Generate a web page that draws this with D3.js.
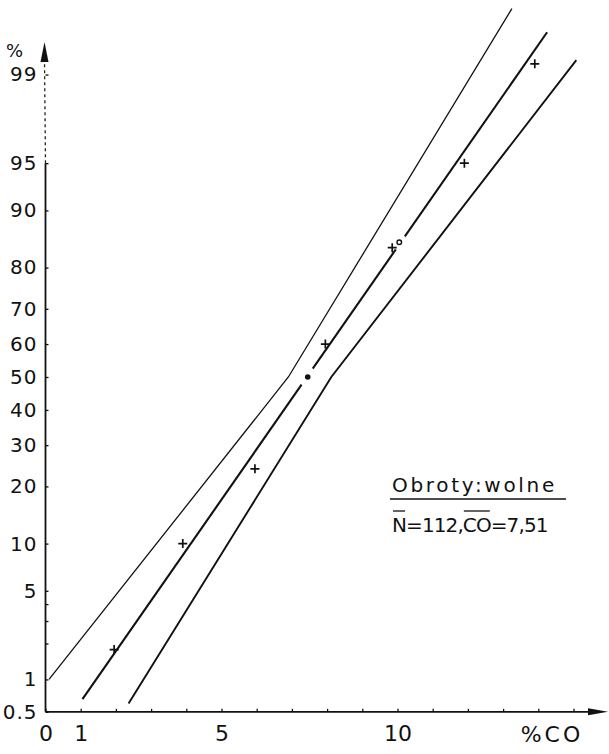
<!DOCTYPE html>
<html lang="pl">
<head>
<meta charset="utf-8">
<title>Obroty: wolne</title>
<script src="https://d3js.org/d3.v7.min.js"></script>
<style>
body { margin: 0; background: #fff; }
svg text { font-family: "DejaVu Sans", sans-serif; fill: #111; }
</style>
</head>
<body>
<div id="chart"></div>
<script>
// probability scale ticks (percent)
var yTicksPct = [0.5, 1, 5, 10, 20, 30, 40, 50, 60, 70, 80, 90, 95, 99];
var yTickLabels = ["0.5", "1", "5", "10", "20", "30", "40", "50", "60", "70", "80", "90", "95", "99"];
var yMinorPct = [2, 3, 4];

// %CO axis
var xTicks = d3.range(0, 16);
var xLabelled = [0, 1, 5, 10];

// observed cumulative frequencies
var obsCO = [1.95, 3.9, 5.95, 7.95, 9.85, 11.9, 13.9];
var obsPct = [1.8, 10, 24, 60, 84, 95, 99.2];

// mean point and sigma marker
var meanCO = 7.45, meanPct = 50;
var sigCO = 10.05, sigPct = 85;

// fitted line and bands [CO, %]
var fitLine = [[1.05, 0.66], [14.25, 99.6]];
var upperBand = [[0.1, 1.0], [6.9, 50], [13.25, 99.77]];
var lowerBand = [[2.36, 0.6], [8.12, 50], [15.08, 99.26]];

(function () {
    var width = 609, height = 754;

    // inverse normal cdf (Acklam)
    function probit(p) {
        var a = [-39.69683028665376, 220.9460984245205, -275.9285104469687, 138.3577518672690, -30.66479806614716, 2.506628277459239],
            b = [-54.47609879822406, 161.5858368580409, -155.6989798598866, 66.80131188771972, -13.28068155288572],
            c = [-0.007784894002430293, -0.3223964580411365, -2.400758277161838, -2.549732539343734, 4.374664141464968, 2.938163982698783],
            d = [0.007784695709041462, 0.3224671290700398, 2.445134137142996, 3.754408661907416],
            pl = 0.02425, q, r;
        if (p < pl) {
            q = Math.sqrt(-2 * Math.log(p));
            return (((((c[0]*q+c[1])*q+c[2])*q+c[3])*q+c[4])*q+c[5]) / ((((d[0]*q+d[1])*q+d[2])*q+d[3])*q+1);
        }
        if (p > 1 - pl) {
            q = Math.sqrt(-2 * Math.log(1 - p));
            return -(((((c[0]*q+c[1])*q+c[2])*q+c[3])*q+c[4])*q+c[5]) / ((((d[0]*q+d[1])*q+d[2])*q+d[3])*q+1);
        }
        q = p - 0.5; r = q * q;
        return (((((a[0]*r+a[1])*r+a[2])*r+a[3])*r+a[4])*r+a[5])*q / (((((b[0]*r+b[1])*r+b[2])*r+b[3])*r+b[4])*r+1);
    }

    var x = d3.scaleLinear().domain([0, 15]).range([45.5, 573.5]);
    var z = d3.scaleLinear().domain([0, 1]).range([377, 247]);
    function y(pct) { return z(probit(pct / 100)); }

    var svg = d3.select("#chart").append("svg")
        .attr("width", width).attr("height", height);

    var x0 = x(0), yBase = y(0.5);

    // y axis line: dotted near the top, solid below
    svg.append("line")
        .attr("x1", x0).attr("x2", x0)
        .attr("y1", yBase).attr("y2", y(95))
        .style("stroke", "#111").style("stroke-width", 1.8);
    svg.append("line")
        .attr("x1", x0).attr("x2", x0 - 1)
        .attr("y1", y(95)).attr("y2", 60)
        .style("stroke", "#222").style("stroke-width", 1.3)
        .style("stroke-dasharray", "3,3");
    svg.append("path")
        .attr("d", "M" + (x0 - 1) + ",42L" + (x0 + 3) + ",62L" + (x0 - 5) + ",62Z")
        .style("fill", "#111");
    svg.append("text")
        .attr("x", 6).attr("y", 57)
        .style("font-size", "18px")
        .text("%");

    // x axis line with arrow
    svg.append("line")
        .attr("x1", x0).attr("x2", 592)
        .attr("y1", yBase).attr("y2", yBase)
        .style("stroke", "#111").style("stroke-width", 1.8);
    svg.append("path")
        .attr("d", "M608," + yBase + "L588," + (yBase - 3.5) + "L588," + (yBase + 3.5) + "Z")
        .style("fill", "#111");

    var yAxis = d3.axisLeft(z)
        .tickValues(yTicksPct.map(function (p) { return probit(p / 100); }))
        .tickFormat(function (d, i) { return yTickLabels[i]; })
        .tickSizeInner(-3).tickSizeOuter(0).tickPadding(8);
    var gy = svg.append("g").attr("transform", "translate(" + x0 + ",0)").call(yAxis);
    gy.select(".domain").remove();
    gy.selectAll("text")
        .style("font-size", "20px").style("font-family", "DejaVu Sans, sans-serif")
        .style("letter-spacing", "1px");
    gy.selectAll("line").style("stroke", "#111").style("stroke-width", 1.3);

    // unlabelled ticks between 1 and 5
    svg.selectAll(".minor")
        .data(yMinorPct)
        .enter().append("line")
        .attr("class", "minor")
        .attr("x1", x0).attr("x2", x0 + 3)
        .attr("y1", function (d) { return y(d); })
        .attr("y2", function (d) { return y(d); })
        .style("stroke", "#111").style("stroke-width", 1.3);

    var xAxis = d3.axisBottom(x)
        .tickValues(xTicks)
        .tickFormat(function (d) { return xLabelled.indexOf(d) >= 0 ? d : ""; })
        .tickSizeInner(-3).tickSizeOuter(0).tickPadding(14);
    var gx = svg.append("g").attr("transform", "translate(0," + yBase + ")").call(xAxis);
    gx.select(".domain").remove();
    gx.selectAll("text")
        .style("font-size", "22px").style("font-family", "DejaVu Sans, sans-serif");
    gx.selectAll("line").style("stroke", "#111").style("stroke-width", 1.3);

    svg.append("text")
        .attr("x", 552).attr("y", 742)
        .attr("text-anchor", "middle")
        .style("font-size", "22px").style("letter-spacing", "3px")
        .text("%CO");

    // lines
    var line = d3.line()
        .x(function (d) { return x(d[0]); })
        .y(function (d) { return y(d[1]); });

    svg.append("path").datum(upperBand)
        .attr("d", line)
        .style("fill", "none").style("stroke", "#111").style("stroke-width", 1.3);
    svg.append("path").datum(lowerBand)
        .attr("d", line)
        .style("fill", "none").style("stroke", "#111").style("stroke-width", 1.9);
    svg.append("path").datum(fitLine)
        .attr("d", line)
        .style("fill", "none").style("stroke", "#111").style("stroke-width", 2.1);

    // gaps in the fitted line around the mean and sigma markers
    svg.selectAll(".halo")
        .data([[meanCO, meanPct, 10], [sigCO, sigPct, 8]])
        .enter().append("circle")
        .attr("class", "halo")
        .attr("cx", function (d) { return x(d[0]); })
        .attr("cy", function (d) { return y(d[1]); })
        .attr("r", function (d) { return d[2]; })
        .style("fill", "#fff");

    // observed points
    svg.selectAll(".obs")
        .data(obsCO)
        .enter().append("path")
        .attr("class", "obs")
        .attr("transform", function (d, i) { return "translate(" + x(d) + "," + y(obsPct[i]) + ")"; })
        .attr("d", "M-4.5,0H4.5M0,-4.5V4.5")
        .style("stroke", "#111").style("stroke-width", 1.7);

    svg.append("circle")
        .attr("cx", x(meanCO)).attr("cy", y(meanPct)).attr("r", 2.8)
        .style("fill", "#111");
    svg.append("circle")
        .attr("cx", x(sigCO)).attr("cy", y(sigPct)).attr("r", 2.3)
        .style("fill", "#fff").style("stroke", "#111").style("stroke-width", 1.4);

    // legend
    svg.append("text")
        .attr("x", 392).attr("y", 492)
        .style("font-size", "20px").style("letter-spacing", "2.7px")
        .text("Obroty:wolne");
    svg.append("line")
        .attr("x1", 390).attr("x2", 566).attr("y1", 499).attr("y2", 499)
        .style("stroke", "#111").style("stroke-width", 1.6);
    var stats = svg.append("text")
        .attr("x", 392).attr("y", 532)
        .style("font-size", "20px").style("letter-spacing", "-0.9px")
        .text("N=112,CO=7,51");
    var node = stats.node();
    [[0, 0], [6, 7]].forEach(function (r) {
        var a = node.getStartPositionOfChar(r[0]).x + 1,
            b = node.getEndPositionOfChar(r[1]).x - 1;
        svg.append("line")
            .attr("x1", a).attr("x2", b).attr("y1", 511).attr("y2", 511)
            .style("stroke", "#111").style("stroke-width", 1.3);
    });
}());
</script>
</body>
</html>
